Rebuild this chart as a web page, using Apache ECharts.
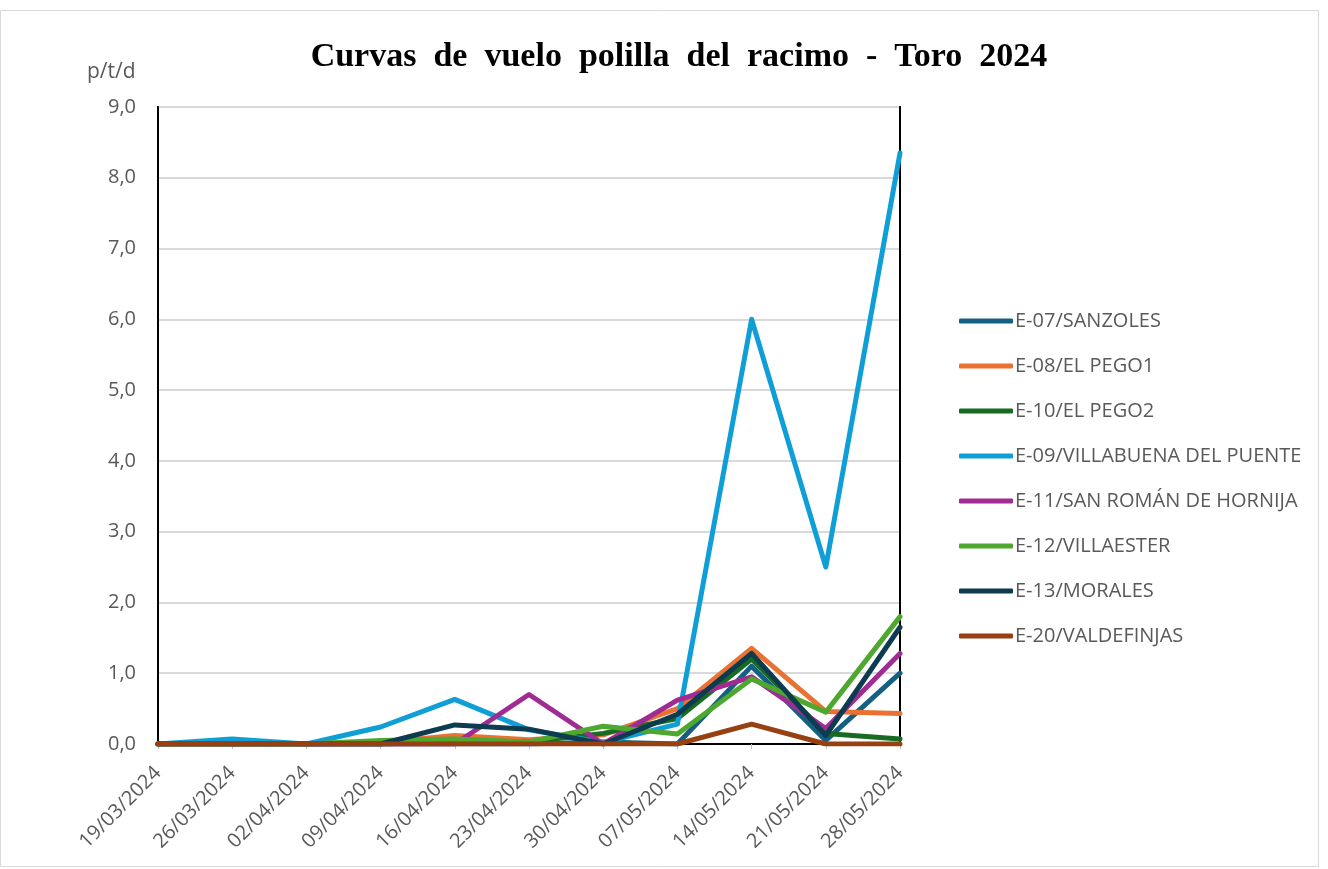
<!DOCTYPE html>
<html>
<head>
<meta charset="utf-8">
<script src="https://cdn.jsdelivr.net/npm/echarts@6/dist/echarts.min.js"></script>
<style>html,body{margin:0;padding:0;background:#fff}#c{width:1328px;height:869px}</style>
</head>
<body>
<div id="c"></div>
<script>
const categories = ['19/03/2024','26/03/2024','02/04/2024','09/04/2024','16/04/2024','23/04/2024','30/04/2024','07/05/2024','14/05/2024','21/05/2024','28/05/2024'];
const seriesNames = ['E-07/SANZOLES','E-08/EL PEGO1','E-10/EL PEGO2','E-09/VILLABUENA DEL PUENTE','E-11/SAN ROMÁN DE HORNIJA','E-12/VILLAESTER','E-13/MORALES','E-20/VALDEFINJAS'];
const e07 = [0,0,0,0,0,0,0.03,0,1.1,0.05,1.0];
const e08 = [0,0,0,0.02,0.12,0.06,0.13,0.5,1.35,0.46,0.43];
const e10 = [0,0,0,0,0.03,0.03,0.15,0.36,1.2,0.15,0.07];
const e09 = [0,0.07,0,0.24,0.63,0.2,0.02,0.28,6.0,2.5,8.35];
const e11 = [0,0,0,0,0,0.7,0,0.62,0.95,0.22,1.28];
const e12 = [0,0,0,0.05,0.07,0.03,0.25,0.14,0.92,0.45,1.8];
const e13 = [0,0,0,0,0.27,0.21,0,0.42,1.28,0.12,1.65];
const e20 = [0,0,0,0,0,0,0,0,0.28,0,0];
const yTicks = [0,1,2,3,4,5,6,7,8,9];

const colors = ['#156082','#E97132','#196B24','#0F9ED5','#A02B93','#4EA72E','#0D3B4F','#974011'];
const dataList = [e07,e08,e10,e09,e11,e12,e13,e20];

const chart = echarts.init(document.getElementById('c'));
chart.setOption({
  animation:false,
  backgroundColor:'#fff',
  title:{
    text:'Curvas  de  vuelo  polilla  del  racimo  -  Toro  2024',
    left:674, top:35, textAlign:'center',
    textStyle:{fontFamily:'Liberation Serif', fontWeight:'bold', fontSize:34, color:'#000'}
  },
  graphic:[
    {type:'rect', shape:{x:0.5,y:10.5,width:1318,height:856}, style:{fill:'none', stroke:'#D9D9D9', lineWidth:1}, z:-1},
    {type:'text', left:87, top:62, style:{text:'p/t/d', fontFamily:'Open Sans', fontSize:21, fill:'#595959'}}
  ],
  legend:{
    orient:'vertical', left:954, top:306,
    itemWidth:54, itemHeight:5, itemGap:25,
    icon:'roundRect',
    data:seriesNames,
    textStyle:{fontFamily:'Open Sans', fontSize:20, color:'#595959', padding:[0,0,0,-3]}
  },
  grid:{left:158, right:428, top:107, bottom:125, show:true, borderColor:'#000', borderWidth:2},
  xAxis:[{
    type:'category', data:categories, boundaryGap:false,
    axisLine:{lineStyle:{color:'#D9D9D9', width:2}},
    axisTick:{show:true, length:5, lineStyle:{color:'#BFBFBF'}},
    axisLabel:{rotate:45, fontFamily:'Open Sans', fontSize:20, color:'#595959', margin:26}
  },{
    type:'category', data:categories, boundaryGap:false, position:'top',
    axisLine:{lineStyle:{color:'#000', width:2}},
    axisTick:{show:false}, axisLabel:{show:false}, splitLine:{show:false}
  }],
  yAxis:[{
    type:'value', min:0, max:9, interval:1,
    axisLine:{show:true, lineStyle:{color:'#000', width:2}},
    axisTick:{show:false},
    splitLine:{lineStyle:{color:'#D9D9D9', width:2}},
    axisLabel:{fontFamily:'Open Sans', fontSize:20, color:'#595959', margin:22,
      formatter:v=>v.toFixed(1).replace('.',',')}
  },{
    type:'value', min:0, max:9, interval:1, position:'right',
    axisLine:{show:true, lineStyle:{color:'#000', width:2}},
    axisTick:{show:false}, axisLabel:{show:false}, splitLine:{show:false}
  }],
  series:dataList.map((d,i)=>({
    name:seriesNames[i], type:'line', data:d, symbol:'none',
    lineStyle:{width:5, color:colors[i], cap:'round', join:'round'},
    itemStyle:{color:colors[i]}
  }))
});
</script>
</body>
</html>
